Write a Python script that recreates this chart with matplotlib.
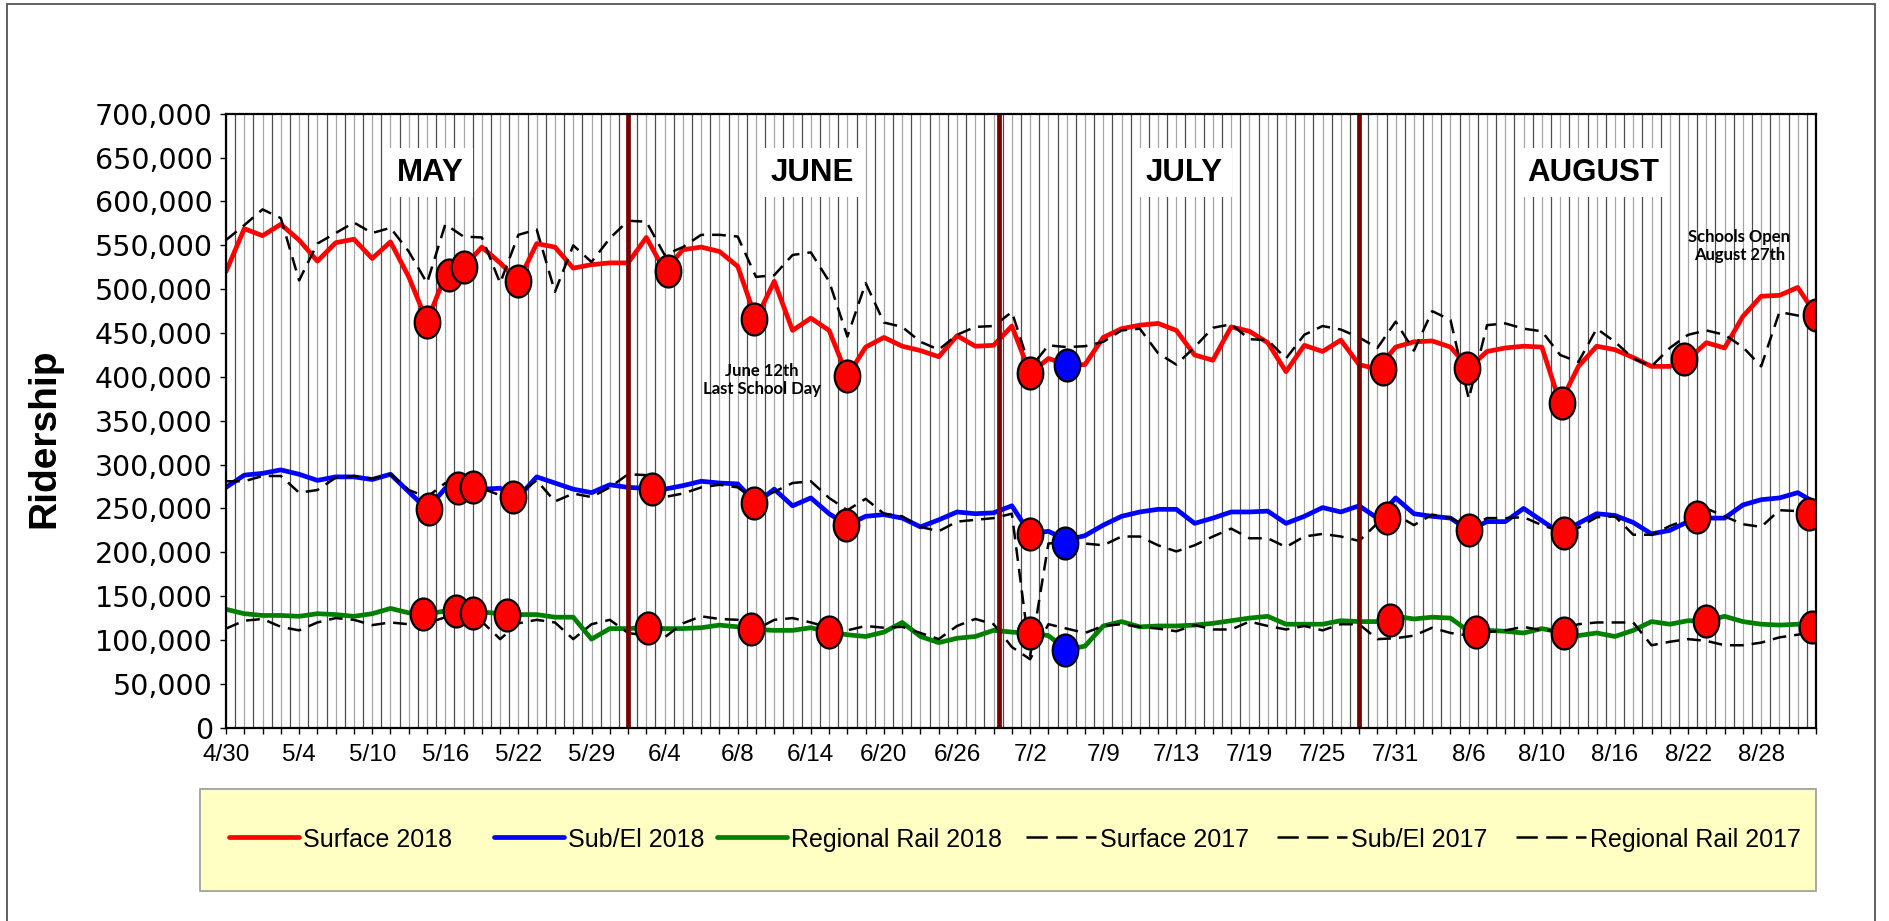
import matplotlib
matplotlib.use("Agg")
import matplotlib.pyplot as plt
import numpy as np
import pandas as pd
from matplotlib.path import Path
from matplotlib.ticker import FuncFormatter, MultipleLocator, FixedLocator
from matplotlib.lines import Line2D
from matplotlib.patches import Rectangle

# ---------------------------------------------------------------- data
# Weekday service days, Memorial Day and Independence Day removed
days = pd.bdate_range("2018-04-30", "2018-08-31")
days = days[~days.isin(pd.to_datetime(["2018-05-28", "2018-07-04"]))]
day_labels = [f"{d.month}/{d.day}" for d in days]
tick_labels = ["4/30", "5/4", "5/10", "5/16", "5/22", "5/29", "6/4", "6/8",
               "6/14", "6/20", "6/26", "7/2", "7/9", "7/13", "7/19", "7/25",
               "7/31", "8/6", "8/10", "8/16", "8/22", "8/28"]

# daily ridership, thousands
surface_2018 = [520, 569, 561, 574, 556, 532, 553, 557, 535, 554, 514, 463, 516, 525, 548, 530,
                509, 552, 548, 524, 528, 530, 530, 559, 521, 545, 548, 543, 526, 466, 509, 453,
                467, 453, 401, 434, 445, 435, 430, 423, 447, 435, 436, 458, 404, 421, 414, 414,
                445, 455, 459, 461, 453, 425, 419, 457, 452, 439, 406, 436, 429, 442, 414, 409,
                434, 440, 441, 434, 410, 429, 433, 435, 434, 370, 412, 435, 431, 422, 412, 412,
                420, 439, 433, 469, 492, 493, 502, 471]
subel_2018 = [274, 288, 290, 294, 289, 282, 286, 286, 283, 289, 269, 249, 273, 275, 272, 273,
              263, 286, 279, 272, 268, 277, 274, 273, 272, 276, 281, 279, 278, 256, 272, 253,
              262, 244, 231, 241, 243, 239, 229, 237, 246, 244, 245, 253, 221, 224, 214, 219,
              231, 241, 246, 249, 249, 233, 239, 246, 246, 247, 233, 241, 251, 246, 253, 239,
              262, 244, 241, 239, 225, 235, 235, 250, 236, 222, 233, 244, 242, 234, 221, 225,
              235, 239, 239, 254, 260, 262, 268, 256]
regional_2018 = [135, 130, 128, 128, 127, 130, 129, 127, 130, 136, 131, 130, 133, 131, 132, 130,
                 129, 129, 126, 126, 101, 113, 113, 114, 113, 113, 114, 117, 115, 112, 111, 111,
                 114, 109, 106, 104, 109, 120, 104, 97, 102, 104, 111, 109, 108, 105, 89, 93,
                 116, 121, 115, 116, 116, 117, 119, 122, 125, 127, 118, 118, 118, 122, 121, 121,
                 127, 124, 126, 125, 110, 111, 110, 108, 113, 109, 105, 108, 104, 111, 121, 118,
                 122, 122, 127, 121, 118, 117, 118, 115]
surface_2017 = [556, 573, 591, 581, 510, 552, 564, 576, 564, 570, 543, 507, 574, 560, 559, 507,
                562, 568, 497, 550, 531, 558, 578, 577, 539, 548, 562, 562, 560, 514, 516, 539,
                542, 509, 446, 507, 462, 457, 440, 431, 448, 457, 458, 474, 410, 436, 434, 435,
                440, 453, 455, 427, 414, 434, 456, 460, 443, 442, 421, 448, 458, 454, 445, 433,
                463, 430, 475, 465, 375, 459, 461, 455, 452, 425, 417, 455, 440, 421, 412, 433,
                448, 453, 448, 434, 412, 474, 470, 468]
subel_2017 = [281, 281, 287, 287, 268, 271, 285, 287, 284, 289, 271, 263, 279, 275, 273, 265,
              267, 282, 258, 267, 263, 274, 289, 288, 263, 267, 274, 277, 274, 259, 269, 279,
              281, 262, 248, 261, 244, 241, 229, 224, 235, 237, 239, 244, 82, 210, 212, 210,
              208, 218, 218, 208, 201, 208, 218, 227, 216, 216, 206, 218, 221, 218, 213, 233,
              243, 231, 243, 239, 228, 239, 239, 240, 231, 224, 228, 240, 241, 220, 220, 230,
              238, 250, 241, 232, 229, 248, 247, 245]
regional_2017 = [113, 122, 124, 115, 111, 120, 125, 123, 117, 120, 118, 119, 126, 126, 121, 101,
                 119, 123, 120, 101, 118, 123, 108, 105, 103, 119, 127, 124, 123, 112, 123, 125,
                 120, 114, 111, 116, 114, 115, 108, 101, 116, 124, 118, 92, 78, 118, 113, 108,
                 116, 118, 115, 113, 110, 117, 112, 112, 121, 116, 112, 116, 111, 118, 118, 101,
                 102, 105, 114, 108, 105, 109, 111, 115, 111, 111, 118, 120, 120, 120, 94, 98,
                 101, 99, 94, 94, 97, 103, 106, 111]

# flagged days (position on the day axis, ridership in thousands)
flag_red_x = [11.0, 12.2, 13.0, 16.0, 24.2, 28.9, 34.0, 44.0, 63.3, 67.9, 73.1, 79.8, 87.0,
              11.1, 12.7, 13.5, 15.7, 23.3, 28.9, 33.9, 44.0, 63.5, 68.0, 73.2, 80.5, 86.6,
              10.8, 12.6, 13.5, 15.4, 23.1, 28.7, 33.0, 44.0, 63.7, 68.4, 73.2, 81.0, 86.8]
flag_red_y = [463, 516, 525, 509, 521, 466, 401, 404, 409, 410, 370, 420, 471,
              249, 273, 275, 263, 272, 256, 231, 221, 239, 225, 222, 240, 244,
              130, 133, 131, 129, 114, 112, 109, 108, 123, 109, 108, 122, 115]
flag_blue_x = [46.0, 45.9, 45.9]
flag_blue_y = [414, 211, 89]

month_names = ["MAY", "JUNE", "JULY", "AUGUST"]
month_pos = [11.2, 32.1, 52.4, 74.8]
month_breaks = [22.0, 42.3, 62.0]

legend_labels = ["Surface 2018", "Sub/El 2018", "Regional Rail 2018",
                 "Surface 2017", "Sub/El 2017", "Regional Rail 2017"]

# ---------------------------------------------------------------- figure
W, H = 1889, 921
fig = plt.figure(figsize=(W / 100, H / 100), dpi=100)
fig.patch.set_facecolor("white")
SANS = ["Liberation Sans", "DejaVu Sans"]
WIDE = ["DejaVu Sans"]
CAL = ["Lato", "DejaVu Sans"]

ax = fig.add_axes([226 / W, 1 - 727.7 / H, (1816 - 226) / W, (727.7 - 113.8) / H])
x = np.arange(len(days))
K = 1000.0

# vertical day grid
for g in np.arange(0, len(days) - 0.99, 0.5):
    on_day = abs(g - round(g)) < 1e-6
    ax.axvline(g, color="#a6a6a6" if on_day else "#4d4d4d", lw=0.9, zorder=0.5)

SOLID = dict(lw=3.4, solid_capstyle="round", solid_joinstyle="round")
DASH = dict(color="black", lw=1.8, dashes=(5.5, 3.2))

colors_2018 = ["#ff0000", "#0000ff", "#008000"]
for vals, c in zip([surface_2018, subel_2018, regional_2018], colors_2018):
    ax.plot(x, np.array(vals) * K, color=c, zorder=3, **SOLID)
for vals in [surface_2017, subel_2017, regional_2017]:
    ax.plot(x, np.array(vals) * K, zorder=3.2, **DASH)

for b in month_breaks:
    ax.axvline(b, color="#7a0000", lw=3.4, zorder=4)

t = np.linspace(0, 2 * np.pi, 64)
ellipse = Path(np.column_stack([0.4 * np.cos(t), 0.5 * np.sin(t)]), closed=True)
mk = dict(ls="none", marker=ellipse, markersize=23, markeredgecolor="black",
          markeredgewidth=1.6, zorder=6)
ax.plot(flag_red_x, np.array(flag_red_y) * K, markerfacecolor="#ff0000", **mk)
ax.plot(flag_blue_x, np.array(flag_blue_y) * K, markerfacecolor="#0000ff", **mk)

for name, pos in zip(month_names, month_pos):
    ax.text(pos, 633000, name, ha="center", va="center", fontsize=22.5,
            fontweight="bold", family=SANS, zorder=5,
            bbox=dict(boxstyle="square,pad=0.3", facecolor="white", edgecolor="none"))

ax.text(29.3, 397000, "June 12th\nLast School Day", ha="center", va="center",
        fontsize=12, fontweight="bold", family=CAL, linespacing=1.15, zorder=5)
ax.text(82.8, 549000, "Schools Open\nAugust 27th", ha="center", va="center",
        fontsize=12, fontweight="bold", family=CAL, linespacing=1.15, zorder=5)

# axes
ax.set_xlim(0, len(days) - 1)
ax.set_ylim(0, 700000)
ax.yaxis.set_major_locator(MultipleLocator(50000))
ax.yaxis.set_major_formatter(FuncFormatter(lambda v, p: f"{int(v):,}"))
ax.xaxis.set_major_locator(FixedLocator([day_labels.index(s) for s in tick_labels]))
ax.set_xticklabels(tick_labels)
ax.xaxis.set_minor_locator(FixedLocator(x))
ax.tick_params(axis="y", direction="out", length=4.5, width=1.0, pad=5,
               labelsize=20.5, colors="black")
ax.tick_params(axis="x", which="both", direction="out", length=4.5, width=1.0, pad=7,
               labelsize=17.5)
for lab in ax.get_yticklabels():
    lab.set_family(WIDE)
for lab in ax.get_xticklabels():
    lab.set_family(SANS)
for s in ax.spines.values():
    s.set_linewidth(1.6)
    s.set_color("black")
    s.set_zorder(7)

fig.text(44.6 / W, 1 - 438 / H, "Ridership", rotation=90, ha="center", va="center",
         fontsize=28, fontweight="bold", family=SANS)

# legend panel
fig.add_artist(Rectangle((200 / W, 1 - 891 / H), 1616 / W, 102 / H, transform=fig.transFigure,
                         facecolor="#ffffc4", edgecolor="#9a9a9a", lw=1.2, zorder=1))
handle_x0 = [229, 494, 717, 1026, 1277, 1516]
handle_len = 70
leg_y = 1 - 837 / H
for i, (lab, hx) in enumerate(zip(legend_labels, handle_x0)):
    style = dict(color=colors_2018[i], lw=3.4, solid_capstyle="round") if i < 3 else \
        dict(color="black", lw=1.8, dashes=(8.5, 3.4))
    fig.add_artist(Line2D([hx / W, (hx + handle_len) / W], [leg_y, leg_y],
                          transform=fig.transFigure, zorder=2, **style))
    fig.text((hx + handle_len + 4) / W, leg_y, lab, ha="left", va="center_baseline",
             fontsize=18, family=SANS, zorder=2)

# outer frame
fig.add_artist(Rectangle((7 / W, -0.02), (1875 - 7) / W, 1.02 - 4 / H, transform=fig.transFigure,
                         fill=False, edgecolor="#555555", lw=1.3, clip_on=False))

fig.savefig("out.png", dpi=100, facecolor="white")
